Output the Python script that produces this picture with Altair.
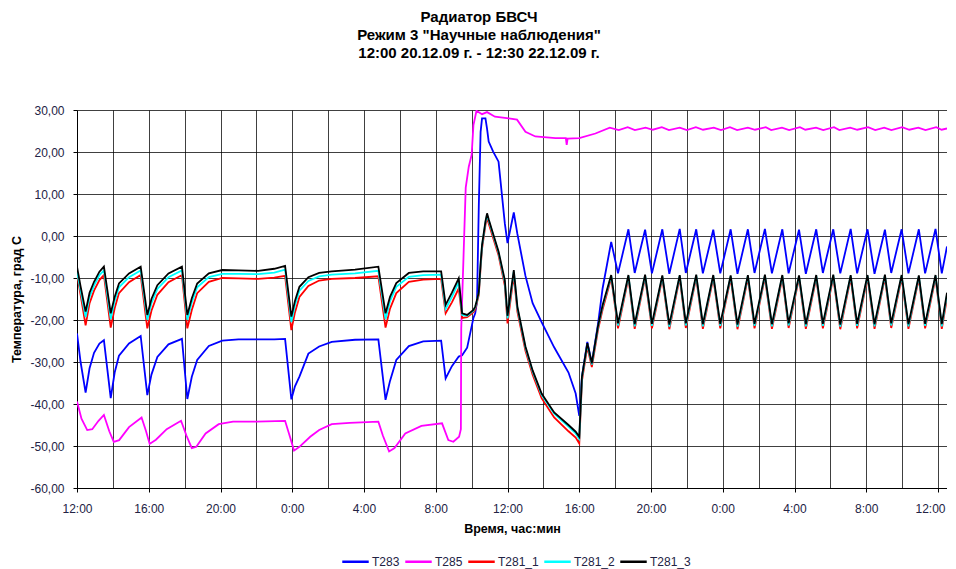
import altair as alt
import pandas as pd

# hours since 12:00 20.12.09
t_main = [0.0, 0.2, 0.48, 0.7, 0.95, 1.25, 1.5, 1.88, 2.1, 2.34, 2.9, 3.55, 3.92, 4.15, 4.48, 5.1, 5.85,
          6.15, 6.4, 6.7, 7.35, 8.1, 9.0, 10.1, 11.0, 11.6, 11.95, 12.15, 12.4, 12.9, 13.5, 14.2, 15.5,
          16.8, 17.2, 17.45, 17.8, 18.5, 19.3, 20.3, 20.55, 20.9, 21.28, 21.47, 21.75, 22.1, 22.2, 22.3,
          22.4, 22.5, 22.58, 22.77, 22.86, 22.95, 23.2, 23.5, 23.85, 24.0, 24.35, 24.55, 25.0, 25.4, 25.9,
          26.6, 27.4, 27.8, 28.0, 28.15, 28.45, 28.7, 29.05, 29.3, 29.78,
          30.16, 30.74, 31.09, 31.67, 32.05, 32.63, 33.02, 33.6, 33.94, 34.52, 34.89, 35.47, 35.86, 36.44,
          36.82, 37.4, 37.77, 38.35, 38.74, 39.32, 39.67, 40.25, 40.63, 41.21, 41.58, 42.16, 42.55, 43.13,
          43.49, 44.07, 44.46, 45.04, 45.39, 45.97, 46.35, 46.93, 47.28, 47.86, 48.21, 48.5]

T281_3 = [-7.3, -12.0, -18.0, -13.5, -10.9, -8.5, -7.3, -18.4, -14.5, -11.3, -8.9, -7.3, -18.8, -15.0, -11.7, -8.9, -7.3,
          -18.8, -14.8, -11.3, -8.9, -8.1, -8.2, -8.3, -7.8, -7.1, -19.2, -15.5, -12.1, -9.8, -8.8, -8.4, -8.0,
          -7.3, -18.4, -14.5, -11.2, -8.8, -8.4, -8.4, -16.4, -13.5, -10.1, -18.4, -18.8, -17.6, -16.8, -15.2,
          -13.3, -6.5, -2.1, 3.5, 5.4, 4.0, 0.5, -3.7, -10.5, -19.0, -8.1, -16.8, -26.3, -32.0, -37.5,
          -42.0, -45.0, -46.6, -47.8, -33.5, -25.5, -30.3, -21.3, -16.5, -9.3,
          -20.8, -9.3, -21.0, -9.2, -20.9, -9.4, -21.1, -9.3, -20.8, -9.2, -21.0, -9.3, -20.9, -9.4,
          -21.1, -9.3, -20.9, -9.2, -21.0, -9.3, -20.8, -9.4, -21.0, -9.3, -20.9, -9.2, -21.1, -9.3,
          -20.9, -9.3, -21.0, -9.2, -20.8, -9.3, -21.0, -9.4, -20.9, -9.3, -21.0, -13.5]

T281_2 = [-8.5, -13.0, -19.3, -14.5, -11.8, -9.3, -8.2, -19.8, -15.5, -12.2, -9.8, -8.2, -20.0, -16.0, -12.6, -9.8, -8.2,
          -20.0, -15.8, -12.2, -9.8, -9.0, -9.0, -9.1, -8.7, -8.0, -20.5, -16.5, -13.0, -10.7, -9.6, -9.2, -8.9,
          -8.3, -19.8, -15.5, -12.1, -9.7, -9.3, -9.2, -17.4, -14.5, -11.0, -18.8, -19.0, -17.8, -17.0, -15.4,
          -13.5, -6.8, -2.4, 3.2, 5.0, 3.7, 0.2, -4.0, -11.0, -19.6, -8.5, -17.2, -26.6, -32.3, -37.8,
          -42.3, -45.4, -47.0, -48.3, -33.8, -25.8, -30.6, -21.6, -16.8, -9.5,
          -21.3, -9.5, -21.5, -9.4, -21.4, -9.6, -21.6, -9.5, -21.3, -9.4, -21.5, -9.5, -21.4, -9.6,
          -21.6, -9.5, -21.4, -9.4, -21.5, -9.5, -21.3, -9.6, -21.5, -9.5, -21.4, -9.4, -21.6, -9.5,
          -21.4, -9.5, -21.5, -9.4, -21.3, -9.5, -21.5, -9.6, -21.4, -9.5, -21.5, -14.0]

T281_1 = [-9.0, -14.0, -21.3, -16.0, -13.0, -10.5, -9.3, -21.8, -17.2, -13.6, -11.0, -9.3, -22.0, -17.8, -14.0, -11.0, -9.3,
          -22.0, -17.6, -13.6, -10.9, -10.0, -10.1, -10.2, -9.9, -9.5, -22.4, -18.2, -14.5, -11.9, -10.6, -10.2, -10.0,
          -9.6, -21.8, -17.3, -13.6, -10.9, -10.4, -10.2, -18.4, -15.8, -12.5, -19.5, -19.3, -18.1, -17.5, -15.8,
          -14.0, -7.5, -3.0, 2.6, 4.3, 3.0, -0.5, -4.6, -11.8, -20.8, -9.3, -18.0, -27.3, -33.0, -38.6,
          -43.2, -46.5, -48.0, -49.4, -34.5, -26.4, -31.2, -22.2, -17.5, -10.0,
          -22.0, -10.0, -22.1, -9.9, -22.0, -10.1, -22.2, -10.0, -21.9, -9.9, -22.1, -10.0, -22.0, -10.1,
          -22.2, -10.0, -22.0, -9.9, -22.1, -10.0, -21.9, -10.1, -22.1, -10.0, -22.0, -9.9, -22.2, -10.0,
          -22.0, -10.0, -22.1, -9.9, -21.9, -10.0, -22.1, -10.1, -22.0, -10.0, -22.1, -14.8]

T283 = [-23.2, -30.0, -37.3, -31.5, -27.8, -25.6, -24.8, -38.6, -32.5, -28.5, -25.6, -23.8, -37.9, -33.0, -28.8, -25.8, -24.5,
        -38.8, -33.5, -29.5, -26.2, -24.9, -24.6, -24.6, -24.6, -24.5, -38.9, -35.8, -33.5, -28.0, -26.3, -25.2, -24.7,
        -24.6, -39.0, -34.5, -29.5, -26.2, -25.1, -24.9, -33.9, -31.0, -28.7, -28.4, -26.6, -19.5, -18.4, -15.6,
        7.4, 24.8, 28.0, 28.0, 25.5, 22.5, 20.1, 17.7, 3.0, -1.7, 5.6, 0.5, -9.5, -16.0, -20.5,
        -26.5, -32.5, -37.5, -42.8, -33.5, -25.2, -30.3, -20.8, -12.5, -1.4,
        -8.9, 1.6, -8.8, 1.5, -8.9, 1.6, -9.0, 1.7, -8.8, 1.6, -8.9, 1.5, -8.9, 1.6,
        -9.0, 1.6, -8.8, 1.7, -8.9, 1.6, -8.9, 1.5, -9.0, 1.6, -8.8, 1.6, -8.9, 1.7,
        -8.9, 1.6, -9.0, 1.5, -8.8, 1.6, -8.9, 1.6, -8.9, 1.7, -8.9, -2.5]

t_T285 = [0.0, 0.25, 0.57, 0.85, 1.2, 1.5, 1.8, 2.05, 2.35, 2.9, 3.6, 3.85, 4.05, 4.4, 5.0, 5.8, 6.1, 6.4, 6.65,
          7.17, 7.9, 8.7, 10.0, 11.6, 11.85, 12.1, 12.4, 13.0, 13.5, 14.2, 15.2, 16.8, 17.05, 17.4, 17.7, 18.3,
          19.2, 20.35, 20.7, 20.98, 21.3, 21.4, 21.42, 21.67, 21.84, 22.0, 22.1, 22.27, 22.58, 22.86, 23.3,
          24.07, 24.53, 25.0, 25.55, 26.67, 27.25, 27.3, 27.35, 28.0, 28.9, 29.7,
          30.2, 30.7, 31.1, 31.7, 32.1, 32.6, 33.0, 33.6, 34.0, 34.5, 34.9, 35.5, 35.9, 36.4, 36.8, 37.4,
          37.8, 38.4, 38.7, 39.3, 39.7, 40.3, 40.6, 41.2, 41.6, 42.2, 42.5, 43.1, 43.5, 44.1, 44.5, 45.0,
          45.4, 46.0, 46.4, 46.9, 47.3, 47.9, 48.2, 48.5]
T285 = [-39.4, -43.5, -46.2, -46.0, -44.0, -42.6, -46.5, -49.0, -48.6, -45.5, -43.2, -46.5, -49.5, -48.5, -46.0, -44.0,
        -47.5, -50.5, -50.2, -47.0, -44.8, -44.2, -44.2, -44.0, -47.5, -51.1, -50.2, -47.8, -46.2, -44.8, -44.5, -44.2,
        -47.5, -51.3, -50.5, -47.0, -45.2, -44.6, -48.6, -49.0, -47.8, -46.0, -22.0, 11.5, 16.5, 19.3, 26.4, 29.8,
        29.0, 29.5, 28.4, 28.0, 27.7, 24.8, 23.7, 23.3, 23.3, 21.7, 23.2, 23.3, 24.4, 25.8,
        25.2, 25.9, 25.2, 25.8, 25.3, 25.9, 25.2, 25.8, 25.2, 25.9, 25.3, 25.8, 25.2, 25.9, 25.2, 25.8,
        25.3, 25.9, 25.2, 25.8, 25.2, 25.9, 25.3, 25.8, 25.2, 25.9, 25.2, 25.8, 25.3, 25.9, 25.2, 25.8,
        25.2, 25.9, 25.3, 25.8, 25.2, 25.9, 25.3, 25.6]

series_names = ["T283", "T285", "T281_1", "T281_2", "T281_3"]
series_colors = ["#0000FF", "#FF00FF", "#FF0000", "#00FFFF", "#000000"]
x_label_hours = list(range(0, 49, 2))
y_ticks = list(range(-60, 31, 10))

rows = []
for name, ts, vs in [("T283", t_main, T283), ("T285", t_T285, T285), ("T281_1", t_main, T281_1),
                     ("T281_2", t_main, T281_2), ("T281_3", t_main, T281_3)]:
    for i, (t, v) in enumerate(zip(ts, vs)):
        rows.append({"series": name, "t": t, "v": v, "i": i})
df = pd.DataFrame(rows)

FONT = "Liberation Sans"

chart = alt.Chart(df).mark_line(strokeWidth=1.8, clip=True).encode(
    x=alt.X("t:Q", scale=alt.Scale(domain=[0, 48.5], nice=False, zero=False),
            axis=alt.Axis(values=x_label_hours, title="Время, час:мин",
                          labelExpr="datum.value % 4 == 0 ? ((12 + datum.value) % 24) + ':00' : ''",
                          tickOpacity={"condition": {"test": "datum.value % 4 == 0", "value": 1}, "value": 0},
                          labelOffset={"condition": {"test": "datum.value == 48", "value": -8}, "value": 0},
                          labelFlush=False, labelOverlap=False, labelPadding=11, titlePadding=8)),
    y=alt.Y("v:Q", scale=alt.Scale(domain=[-60, 30], nice=False, zero=False),
            axis=alt.Axis(values=y_ticks, title="Температура, град С", labelPadding=9, titlePadding=6,
                          labelExpr="replace((datum.value < 0 ? '-' : '') + format(abs(datum.value), '.2f'), '.', ',')")),
    color=alt.Color("series:N", scale=alt.Scale(domain=series_names, range=series_colors),
                    legend=alt.Legend(title=None, orient="none", direction="horizontal",
                                      legendX=264, legendY=437)),
    detail="series:N",
    order="i:Q",
).properties(
    width=870, height=378,
    padding={"left": 2, "top": 2, "right": 0, "bottom": 4},
    title=alt.TitleParams(text=["Радиатор БВСЧ", "Режим 3 \"Научные наблюдения\"", "12:00 20.12.09 г. - 12:30 22.12.09 г."],
                          font=FONT, fontSize=15, fontWeight="bold", anchor="middle", frame="bounds",
                          lineHeight=18, offset=43, color="#000000"),
).configure_view(stroke=None).configure_axis(
    labelFont=FONT, labelFontSize=12, labelColor="#222244", titleFont=FONT, titleFontSize=12.5,
    titleFontWeight="bold", titleColor="#000000", gridColor="#000000", gridOpacity=0.75, gridWidth=1,
    domainColor="#000000", tickColor="#000000", tickSize=4,
).configure_legend(
    labelFont=FONT, labelFontSize=12, labelColor="#222244", symbolType="stroke", symbolStrokeWidth=2.5,
    symbolSize=700, columnPadding=0, labelOffset=2,
)

chart.save("out.html", embed_options={"renderer": "svg", "actions": False})
